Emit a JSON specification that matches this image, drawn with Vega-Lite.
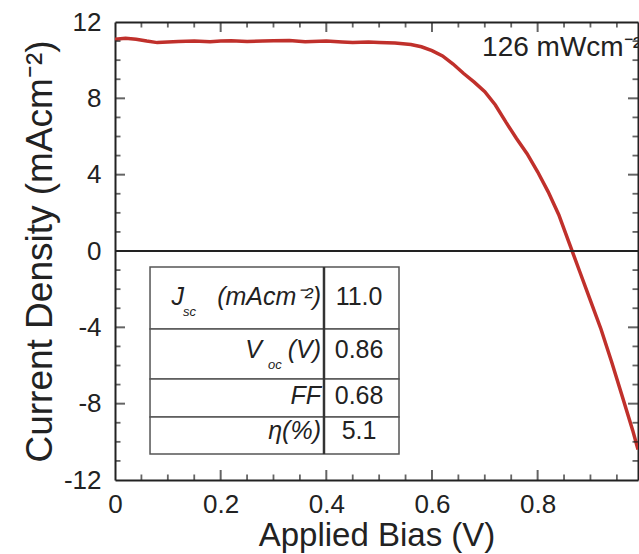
{
  "$schema": "https://vega.github.io/schema/vega-lite/v6.json",
  "width": 523,
  "height": 458,
  "autosize": "none",
  "padding": {"left": 115, "top": 22, "right": 1, "bottom": 74},
  "background": "white",
  "config": {
    "font": "Liberation Sans",
    "view": {"stroke": null},
    "axis": {
      "grid": false,
      "domainColor": "#222",
      "domainWidth": 2,
      "labelColor": "#222",
      "labelFontSize": 26,
      "labelFont": "Liberation Sans",
      "titleFont": "Liberation Sans",
      "titleFontWeight": "normal",
      "titleColor": "#222",
      "labelOverlap": false,
      "labelFlush": false
    }
  },
  "layer": [
    {
      "data": {"values": [
        {"v": 0.0, "j": 11.1}, {"v": 0.02, "j": 11.15}, {"v": 0.04, "j": 11.1}, {"v": 0.06, "j": 11.0},
        {"v": 0.08, "j": 10.92}, {"v": 0.1, "j": 10.95}, {"v": 0.12, "j": 10.98}, {"v": 0.15, "j": 11.0},
        {"v": 0.18, "j": 10.97}, {"v": 0.2, "j": 11.0}, {"v": 0.22, "j": 11.02}, {"v": 0.25, "j": 10.98},
        {"v": 0.28, "j": 11.0}, {"v": 0.3, "j": 11.02}, {"v": 0.33, "j": 11.03}, {"v": 0.36, "j": 10.97},
        {"v": 0.4, "j": 11.0}, {"v": 0.43, "j": 10.95}, {"v": 0.45, "j": 10.92}, {"v": 0.48, "j": 10.95},
        {"v": 0.5, "j": 10.93}, {"v": 0.53, "j": 10.9}, {"v": 0.56, "j": 10.82}, {"v": 0.58, "j": 10.7},
        {"v": 0.6, "j": 10.5}, {"v": 0.62, "j": 10.22}, {"v": 0.64, "j": 9.8}, {"v": 0.66, "j": 9.3},
        {"v": 0.68, "j": 8.85}, {"v": 0.7, "j": 8.35}, {"v": 0.72, "j": 7.65}, {"v": 0.74, "j": 6.75},
        {"v": 0.76, "j": 5.9}, {"v": 0.78, "j": 5.1}, {"v": 0.8, "j": 4.15}, {"v": 0.82, "j": 3.1},
        {"v": 0.84, "j": 1.9}, {"v": 0.86, "j": 0.4}, {"v": 0.88, "j": -1.1}, {"v": 0.9, "j": -2.6},
        {"v": 0.92, "j": -4.1}, {"v": 0.94, "j": -5.8}, {"v": 0.96, "j": -7.6}, {"v": 0.98, "j": -9.4},
        {"v": 0.99, "j": -10.4}
      ]},
      "mark": {"type": "line", "color": "#c0302b", "strokeWidth": 3.5, "clip": true},
      "encoding": {
        "x": {
          "field": "v", "type": "quantitative",
          "scale": {"domain": [0, 0.99], "nice": false, "zero": false},
          "axis": {
            "orient": "bottom",
            "title": "Applied Bias (V)",
            "titleFontSize": 33,
            "titlePadding": 2,
            "values": [0, 0.2, 0.4, 0.6, 0.8],
            "labelExpr": "datum.value == 0 ? '0' : format(datum.value, '.1f')",
            "ticks": false,
            "labelPadding": 11
          }
        },
        "y": {
          "field": "j", "type": "quantitative",
          "scale": {"domain": [-12, 12], "nice": false, "zero": false},
          "axis": {
            "orient": "left",
            "title": "Current Density (mAcm⁻²)",
            "titleFontSize": 37,
            "titlePadding": 4,
            "values": [-12, -8, -4, 0, 4, 8, 12],
            "labelExpr": "'' + datum.value",
            "ticks": false,
            "labelPadding": 14
          }
        }
      }
    },
    {
      "data": {"values": [{"j": 0}]},
      "mark": {"type": "rule", "color": "#222", "strokeWidth": 2},
      "encoding": {
        "y": {"field": "j", "type": "quantitative", "axis": null}
      }
    },
    {
      "data": {"values": [{"v": 0.2}, {"v": 0.4}, {"v": 0.6}, {"v": 0.8}]},
      "mark": {"type": "tick", "color": "#222", "orient": "vertical", "size": 20, "thickness": 2, "clip": true},
      "encoding": {
        "x": {"field": "v", "type": "quantitative", "axis": null},
        "y": {"datum": -12, "type": "quantitative", "axis": null}
      }
    },
    {
      "data": {"values": [{"v": 0.2}, {"v": 0.4}, {"v": 0.6}, {"v": 0.8}]},
      "mark": {"type": "tick", "color": "#222", "orient": "vertical", "size": 20, "thickness": 2, "clip": true},
      "encoding": {
        "x": {"field": "v", "type": "quantitative", "axis": null},
        "y": {"datum": 12, "type": "quantitative", "axis": null}
      }
    },
    {
      "data": {"values": [{"v": 0.05}, {"v": 0.1}, {"v": 0.15}, {"v": 0.25}, {"v": 0.3}, {"v": 0.35}, {"v": 0.45}, {"v": 0.5}, {"v": 0.55}, {"v": 0.65}, {"v": 0.7}, {"v": 0.75}, {"v": 0.85}, {"v": 0.9}, {"v": 0.95}]},
      "mark": {"type": "tick", "color": "#222", "orient": "vertical", "size": 11, "thickness": 1.8, "clip": true},
      "encoding": {
        "x": {"field": "v", "type": "quantitative", "axis": null},
        "y": {"datum": -12, "type": "quantitative", "axis": null}
      }
    },
    {
      "data": {"values": [{"v": 0.05}, {"v": 0.1}, {"v": 0.15}, {"v": 0.25}, {"v": 0.3}, {"v": 0.35}, {"v": 0.45}, {"v": 0.5}, {"v": 0.55}, {"v": 0.65}, {"v": 0.7}, {"v": 0.75}, {"v": 0.85}, {"v": 0.9}, {"v": 0.95}]},
      "mark": {"type": "tick", "color": "#222", "orient": "vertical", "size": 11, "thickness": 1.8, "clip": true},
      "encoding": {
        "x": {"field": "v", "type": "quantitative", "axis": null},
        "y": {"datum": 12, "type": "quantitative", "axis": null}
      }
    },
    {
      "data": {"values": [{"j": -8}, {"j": -4}, {"j": 0}, {"j": 4}, {"j": 8}]},
      "mark": {"type": "tick", "color": "#222", "orient": "horizontal", "size": 20, "thickness": 2, "clip": true},
      "encoding": {
        "y": {"field": "j", "type": "quantitative", "axis": null},
        "x": {"datum": 0, "type": "quantitative", "axis": null}
      }
    },
    {
      "data": {"values": [{"j": -8}, {"j": -4}, {"j": 0}, {"j": 4}, {"j": 8}]},
      "mark": {"type": "tick", "color": "#222", "orient": "horizontal", "size": 20, "thickness": 2, "clip": true},
      "encoding": {
        "y": {"field": "j", "type": "quantitative", "axis": null},
        "x": {"datum": 0.99, "type": "quantitative", "axis": null}
      }
    },
    {
      "data": {"values": [{"j": -11}, {"j": -10}, {"j": -9}, {"j": -7}, {"j": -6}, {"j": -5}, {"j": -3}, {"j": -2}, {"j": -1}, {"j": 1}, {"j": 2}, {"j": 3}, {"j": 5}, {"j": 6}, {"j": 7}, {"j": 9}, {"j": 10}, {"j": 11}]},
      "mark": {"type": "tick", "color": "#222", "orient": "horizontal", "size": 11, "thickness": 1.8, "clip": true},
      "encoding": {
        "y": {"field": "j", "type": "quantitative", "axis": null},
        "x": {"datum": 0, "type": "quantitative", "axis": null}
      }
    },
    {
      "data": {"values": [{"j": -11}, {"j": -10}, {"j": -9}, {"j": -7}, {"j": -6}, {"j": -5}, {"j": -3}, {"j": -2}, {"j": -1}, {"j": 1}, {"j": 2}, {"j": 3}, {"j": 5}, {"j": 6}, {"j": 7}, {"j": 9}, {"j": 10}, {"j": 11}]},
      "mark": {"type": "tick", "color": "#222", "orient": "horizontal", "size": 11, "thickness": 1.8, "clip": true},
      "encoding": {
        "y": {"field": "j", "type": "quantitative", "axis": null},
        "x": {"datum": 0.99, "type": "quantitative", "axis": null}
      }
    },
    {
      "data": {"values": [
        {"x1": 0.0663, "x2": 0.5376, "y1": -0.84, "y2": -4.09},
        {"x1": 0.0663, "x2": 0.5376, "y1": -4.09, "y2": -6.71},
        {"x1": 0.0663, "x2": 0.5376, "y1": -6.71, "y2": -8.70},
        {"x1": 0.0663, "x2": 0.5376, "y1": -8.70, "y2": -10.64}
      ]},
      "mark": {"type": "rect", "fill": "white", "stroke": "#555", "strokeWidth": 1.5},
      "encoding": {
        "x": {"field": "x1", "type": "quantitative", "axis": {
          "orient": "top", "title": null, "labels": false, "ticks": false,
          "values": [0, 0.2, 0.4, 0.6, 0.8]
        }},
        "x2": {"field": "x2"},
        "y": {"field": "y1", "type": "quantitative", "axis": {
          "orient": "right", "title": null, "labels": false, "ticks": false,
          "values": [-12, -8, -4, 0, 4, 8, 12]
        }},
        "y2": {"field": "y2"}
      }
    },
    {
      "data": {"values": [{"x": 0.3956, "y1": -0.84, "y2": -10.64}]},
      "mark": {"type": "rule", "color": "#333", "strokeWidth": 2.5},
      "encoding": {
        "x": {"field": "x", "type": "quantitative", "axis": null},
        "y": {"field": "y1", "type": "quantitative", "axis": null},
        "y2": {"field": "y2"}
      }
    },
    {
      "data": {"values": [
        {"t": "(mAcm⁻²)", "x": 0.3956, "y": -2.4},
        {"t": "(V)", "x": 0.3956, "y": -5.2},
        {"t": "FF", "x": 0.3956, "y": -7.6},
        {"t": "η(%)", "x": 0.3956, "y": -9.45}
      ]},
      "mark": {"type": "text", "align": "right", "baseline": "middle", "dx": -3, "fontSize": 25, "fontStyle": "italic", "color": "#222"},
      "encoding": {
        "x": {"field": "x", "type": "quantitative", "axis": null},
        "y": {"field": "y", "type": "quantitative", "axis": null},
        "text": {"field": "t"}
      }
    },
    {
      "data": {"values": [{"t": "J", "x": 0.3956, "y": -2.4}]},
      "mark": {"type": "text", "align": "right", "baseline": "middle", "dx": -140, "fontSize": 25, "fontStyle": "italic", "color": "#222"},
      "encoding": {
        "x": {"field": "x", "type": "quantitative", "axis": null},
        "y": {"field": "y", "type": "quantitative", "axis": null},
        "text": {"field": "t"}
      }
    },
    {
      "data": {"values": [{"t": "sc", "x": 0.3956, "y": -2.4}]},
      "mark": {"type": "text", "align": "left", "baseline": "middle", "dx": -141, "dy": 15, "fontSize": 13, "fontStyle": "italic", "color": "#222"},
      "encoding": {
        "x": {"field": "x", "type": "quantitative", "axis": null},
        "y": {"field": "y", "type": "quantitative", "axis": null},
        "text": {"field": "t"}
      }
    },
    {
      "data": {"values": [{"t": "V", "x": 0.3956, "y": -5.2}]},
      "mark": {"type": "text", "align": "right", "baseline": "middle", "dx": -62, "fontSize": 25, "fontStyle": "italic", "color": "#222"},
      "encoding": {
        "x": {"field": "x", "type": "quantitative", "axis": null},
        "y": {"field": "y", "type": "quantitative", "axis": null},
        "text": {"field": "t"}
      }
    },
    {
      "data": {"values": [{"t": "oc", "x": 0.3956, "y": -5.2}]},
      "mark": {"type": "text", "align": "left", "baseline": "middle", "dx": -56, "dy": 15, "fontSize": 13, "fontStyle": "italic", "color": "#222"},
      "encoding": {
        "x": {"field": "x", "type": "quantitative", "axis": null},
        "y": {"field": "y", "type": "quantitative", "axis": null},
        "text": {"field": "t"}
      }
    },
    {
      "data": {"values": [
        {"t": "11.0", "x": 0.462, "y": -2.4},
        {"t": "0.86", "x": 0.462, "y": -5.2},
        {"t": "0.68", "x": 0.462, "y": -7.6},
        {"t": "5.1", "x": 0.462, "y": -9.45}
      ]},
      "mark": {"type": "text", "align": "center", "baseline": "middle", "fontSize": 25, "color": "#222"},
      "encoding": {
        "x": {"field": "x", "type": "quantitative", "axis": null},
        "y": {"field": "y", "type": "quantitative", "axis": null},
        "text": {"field": "t"}
      }
    },
    {
      "data": {"values": [{"t": "126 mWcm⁻²", "x": 0.99, "y": 10.2}]},
      "mark": {"type": "text", "align": "right", "baseline": "alphabetic", "dx": 4, "fontSize": 28, "color": "#222"},
      "encoding": {
        "x": {"field": "x", "type": "quantitative", "axis": null},
        "y": {"field": "y", "type": "quantitative", "axis": null},
        "text": {"field": "t"}
      }
    }
  ],
  "resolve": {"axis": {"x": "independent", "y": "independent"}}
}
